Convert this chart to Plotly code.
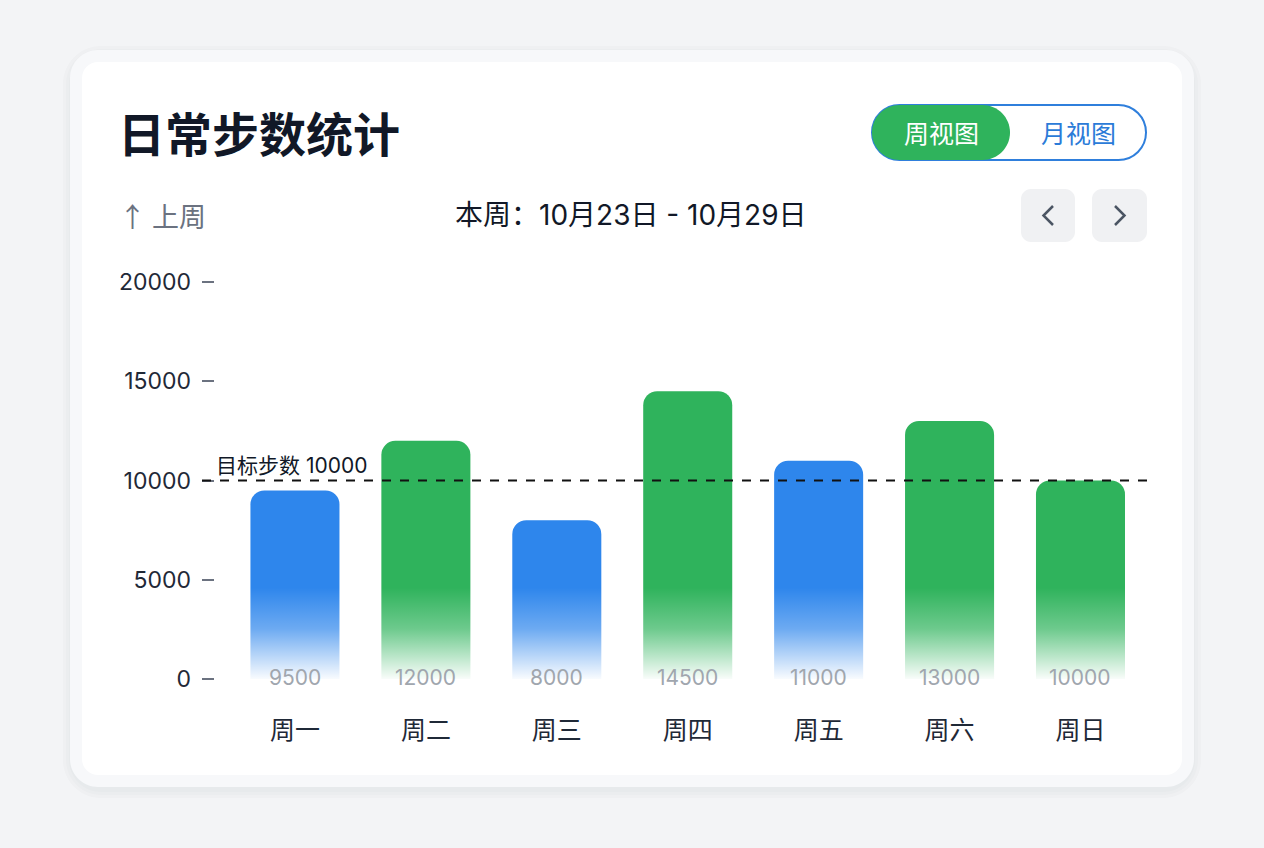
import base64
import plotly.graph_objects as go

# ---------------- data ----------------
days = ["周一", "周二", "周三", "周四", "周五", "周六", "周日"]
steps = [9500, 12000, 8000, 14500, 11000, 13000, 10000]
bar_colors = ["#2e86ec", "#2fb35c", "#2e86ec", "#2fb35c", "#2e86ec", "#2fb35c", "#2fb35c"]
y_ticks = [0, 5000, 10000, 15000, 20000]
goal = 10000
goal_label = "目标步数 10000"
title = "日常步数统计"
week_label = "本周：10月23日 - 10月29日"
prev_label = "↑ 上周"
toggle_labels = ["周视图", "月视图"]

W, H = 1264, 848
FONT = "Inter, Noto Sans CJK SC, sans-serif"
CJK = "Noto Sans CJK SC, sans-serif"


def X(x):
    return x / W


def Y(y):
    return 1 - y / H


def rrect(x0, y0, x1, y1, r):
    k = 0.5523 * r
    pts = [
        ("M", [(x0 + r, y0)]),
        ("L", [(x1 - r, y0)]),
        ("C", [(x1 - r + k, y0), (x1, y0 + r - k), (x1, y0 + r)]),
        ("L", [(x1, y1 - r)]),
        ("C", [(x1, y1 - r + k), (x1 - r + k, y1), (x1 - r, y1)]),
        ("L", [(x0 + r, y1)]),
        ("C", [(x0 + r - k, y1), (x0, y1 - r + k), (x0, y1 - r)]),
        ("L", [(x0, y0 + r)]),
        ("C", [(x0, y0 + r - k), (x0 + r - k, y0), (x0 + r, y0)]),
    ]
    s = ""
    for cmd, ps in pts:
        s += cmd + " " + " ".join(f"{X(a):.6f},{Y(b):.6f}" for a, b in ps) + " "
    return s + "Z"


def polyline(points):
    return "M " + " L ".join(f"{X(a):.6f},{Y(b):.6f}" for a, b in points)


shapes = []
# card shadow + ring + card
for i, op in enumerate([0.014, 0.014, 0.018]):
    d = 4 + i * 3
    shapes.append(dict(type="path", xref="paper", yref="paper", layer="below",
                       path=rrect(70 - d + 3, 50 - d + 6, 1194 + d - 3, 787 + d + 1, 28 + d),
                       fillcolor=f"rgba(30,40,60,{op})", line=dict(width=0)))
shapes.append(dict(type="path", xref="paper", yref="paper", layer="below",
                   path=rrect(70, 50, 1194, 787, 28), fillcolor="#f7f8fa", line=dict(width=0)))
shapes.append(dict(type="path", xref="paper", yref="paper", layer="below",
                   path=rrect(82, 62, 1182, 775, 16), fillcolor="#ffffff", line=dict(width=0)))
# toggle
shapes.append(dict(type="path", xref="paper", yref="paper", layer="below",
                   path=rrect(872, 105, 1146, 160, 27.5), fillcolor="#ffffff",
                   line=dict(color="#2f7fdc", width=2)))
shapes.append(dict(type="path", xref="paper", yref="paper", layer="below",
                   path=rrect(872, 105, 1010, 160, 27.5), fillcolor="#2fb35c", line=dict(width=0)))
# nav buttons
shapes.append(dict(type="path", xref="paper", yref="paper", layer="below",
                   path=rrect(1021, 189, 1075, 242, 10), fillcolor="#f0f1f3", line=dict(width=0)))
shapes.append(dict(type="path", xref="paper", yref="paper", layer="below",
                   path=rrect(1092, 189, 1147, 242, 10), fillcolor="#f0f1f3", line=dict(width=0)))
shapes.append(dict(type="path", xref="paper", yref="paper", layer="above",
                   path=polyline([(1053, 206), (1043.5, 215.5), (1053, 225)]),
                   line=dict(color="#4b5563", width=2.5)))
shapes.append(dict(type="path", xref="paper", yref="paper", layer="above",
                   path=polyline([(1115, 206), (1124.5, 215.5), (1115, 225)]),
                   line=dict(color="#4b5563", width=2.5)))
# goal line
shapes.append(dict(type="line", xref="paper", yref="y", x0=X(202), x1=X(1147), y0=goal, y1=goal,
                   layer="above", line=dict(color="#111111", width=2, dash="dash")))

annotations = [
    dict(x=X(116), y=Y(131), xref="paper", yref="paper", xanchor="left", yanchor="middle",
         text=f"<b>{title}</b>", showarrow=False, font=dict(family=CJK, size=47, color="#111827")),
    dict(x=X(117), y=Y(215), xref="paper", yref="paper", xanchor="left", yanchor="middle",
         text=prev_label, showarrow=False, font=dict(family=CJK, size=27, color="#6b7280")),
    dict(x=X(631), y=Y(215), xref="paper", yref="paper", xanchor="center", yanchor="middle",
         text=week_label, showarrow=False, font=dict(family=FONT, size=28, color="#111827")),
    dict(x=X(941), y=Y(132), xref="paper", yref="paper", xanchor="center", yanchor="middle",
         text=toggle_labels[0], showarrow=False, font=dict(family=CJK, size=25, color="#ffffff")),
    dict(x=X(1078), y=Y(132), xref="paper", yref="paper", xanchor="center", yanchor="middle",
         text=toggle_labels[1], showarrow=False, font=dict(family=CJK, size=25, color="#2b7bd8")),
    dict(x=X(214), y=goal, xref="paper", yref="y", xanchor="left", yanchor="bottom", yshift=1,
         text=goal_label, showarrow=False, font=dict(family=FONT, size=21, color="#111827")),
]
for i, v in enumerate(steps):
    annotations.append(dict(x=i, y=0, xref="x", yref="y", xanchor="center", yanchor="middle", yshift=2,
                            text=str(v), showarrow=False, font=dict(family=FONT, size=21, color="#a0a6ae")))

fig = go.Figure()
fig.add_trace(go.Bar(
    x=list(range(len(days))), y=steps, width=0.68,
    marker=dict(color=bar_colors, cornerradius=14, line=dict(width=0)),
    hoverinfo="skip",
))

# white fade overlay for the lower part of the bars
svg = ("<svg xmlns='http://www.w3.org/2000/svg' width='100' height='100' viewBox='0 0 100 100' "
       "preserveAspectRatio='none'><defs><linearGradient id='g' x1='0' y1='0' x2='0' y2='1'>"
       "<stop offset='0' stop-color='#ffffff' stop-opacity='0'/>"
       "<stop offset='0.45' stop-color='#ffffff' stop-opacity='0.3'/>"
       "<stop offset='1' stop-color='#ffffff' stop-opacity='0.97'/>"
       "</linearGradient></defs><rect x='0' y='0' width='100' height='100' fill='url(#g)'/></svg>")
src = "data:image/svg+xml;base64," + base64.b64encode(svg.encode()).decode()
fade_top = 4600
fig.add_layout_image(dict(source=src, xref="x", yref="y", x=-0.5, y=fade_top,
                          sizex=len(days), sizey=fade_top, xanchor="left", yanchor="top",
                          sizing="stretch", layer="above", opacity=1))

# axis geometry (pixels): y=0 at 679, y=20000 at 282; pad range so end ticks show
ppu = (679 - 282) / 20000
pad = 300
y_lo, y_hi = -pad, 20000 + pad
x_left = -0.71
x_right = 6.508
fig.update_layout(
    width=W, height=H,
    margin=dict(l=0, r=0, t=0, b=0, autoexpand=False),
    paper_bgcolor="#f3f4f6",
    plot_bgcolor="rgba(0,0,0,0)",
    showlegend=False,
    shapes=shapes,
    annotations=annotations,
    font=dict(family=FONT),
    xaxis=dict(domain=[X(202), X(1147)], range=[x_left, x_right], automargin=False,
               tickvals=list(range(len(days))), ticktext=days, ticks="",
               showgrid=False, zeroline=False, showline=False, fixedrange=True,
               tickfont=dict(family=CJK, size=25, color="#1f2937"), ticklabelstandoff=28),
    yaxis=dict(domain=[Y(679 + pad * ppu), Y(282 - pad * ppu)], range=[y_lo, y_hi], tickvals=y_ticks,
               automargin=False,
               ticktext=[str(t) for t in y_ticks], ticks="inside", ticklen=12, tickwidth=2,
               tickcolor="#6b7280", showgrid=False, zeroline=False, showline=False, fixedrange=True,
               tickfont=dict(family=FONT, size=23, color="#1f2937"), ticklabelstandoff=10),
)

fig.write_html("out.html")
